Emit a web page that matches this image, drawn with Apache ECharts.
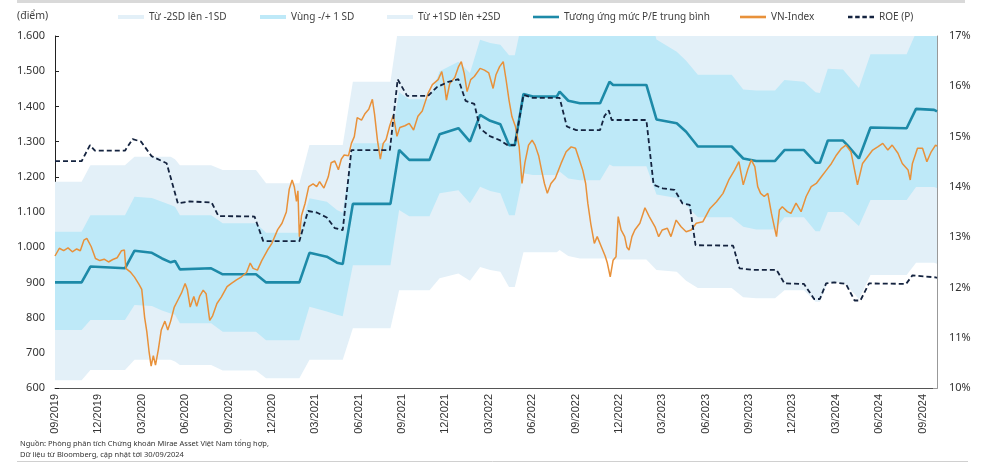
<!DOCTYPE html>
<html>
<head>
<meta charset="utf-8">
<script src="https://cdn.jsdelivr.net/npm/echarts/dist/echarts.min.js"></script>
<style>
html,body{margin:0;padding:0;background:#fff;}
#chart{width:990px;height:466px;}
</style>
</head>
<body>
<div id="chart"></div>
<script>
// x positions are months elapsed since the start of 09/2019
const xTickLabels = ['09/2019','12/2019','03/2020','06/2020','09/2020','12/2020','03/2021','06/2021','09/2021','12/2021','03/2022','06/2022','09/2022','12/2022','03/2023','06/2023','09/2023','12/2023','03/2024','06/2024','09/2024'];

// P/E bands (converted to index points)
const bandMonths = [0,1.84,2.45,4.84,5.5,6.7,7.4,8.0,8.3,8.64,10.8,11.6,13.9,14.6,16.9,17.6,18.8,19.5,19.9,20.6,23.2,23.8,24.5,25.9,26.6,27.9,28.7,29.4,30.1,30.8,31.4,31.8,32.4,33.05,34.7,34.9,35.5,36.3,37.7,38.35,38.6,40.9,41.6,43.0,43.65,44.46,46.8,47.6,48.5,49.8,50.45,51.8,52.6,52.9,53.45,54.5,54.8,55.6,56.4,58.9,59.55,60.8,61.0];
const peMean = [900,900,945,940,990,984,968,957,961,937,940,923,923,900,900,984,973,956,952,1123,1123,1276,1248,1248,1321,1338,1300,1376,1359,1349,1290,1290,1435,1428,1428,1442,1416,1409,1409,1470,1461,1461,1363,1352,1328,1286,1286,1252,1245,1245,1276,1276,1240,1240,1303,1303,1290,1252,1340,1338,1393,1390,1386];
const peUp1 = [1044,1044,1091,1091,1143,1140,1129,1120,1115,1091,1091,1068,1068,1041,1041,1139,1129,1106,1098,1295,1295,1440,1420,1420,1500,1527,1495,1589,1580,1575,1545,1545,1660,1655,1655,1670,1645,1640,1640,1700,1690,1690,1590,1555,1530,1490,1490,1448,1445,1445,1475,1470,1440,1438,1507,1505,1490,1452,1548,1548,1610,1610,1605];
const peUp2 = [1186,1186,1233,1233,1257,1257,1257,1257,1250,1233,1233,1219,1219,1182,1182,1290,1290,1290,1290,1470,1470,1640,1620,1620,1680,1700,1690,1800,1800,1800,1730,1730,1890,1880,1880,1890,1870,1860,1860,1930,1920,1920,1780,1760,1735,1695,1695,1650,1645,1645,1675,1670,1640,1640,1710,1705,1690,1655,1760,1760,1830,1830,1825];
const peLo1 = [765,765,793,793,836,833,820,812,808,784,784,760,760,736,736,831,817,808,804,949,949,1106,1088,1088,1153,1162,1125,1172,1160,1153,1091,1091,1210,1205,1205,1215,1195,1190,1190,1235,1230,1230,1150,1140,1120,1085,1085,1058,1050,1050,1085,1085,1045,1045,1100,1100,1090,1060,1134,1134,1171,1171,1168];
const peLo2 = [622,622,651,651,680,680,680,680,675,665,665,650,650,628,628,680,680,680,680,770,770,878,878,878,912,925,905,944,935,930,887,887,986,986,986,992,975,968,968,968,965,965,935,930,905,884,884,858,855,855,878,878,845,845,900,900,890,852,921,921,956,956,953];

// VN-Index
const vnMonths = [0,0.3,0.6,0.9,1.2,1.5,1.75,2.0,2.2,2.5,2.8,3.1,3.4,3.7,4.0,4.3,4.6,4.8,4.9,5.2,5.5,5.8,6.0,6.2,6.35,6.5,6.65,6.8,6.95,7.15,7.35,7.6,7.8,8.0,8.25,8.5,8.75,9.0,9.15,9.35,9.6,9.8,10.0,10.25,10.45,10.7,10.9,11.2,11.5,11.9,12.2,12.55,12.9,13.25,13.5,13.7,14.0,14.3,14.7,15.0,15.4,15.7,16.0,16.2,16.4,16.55,16.7,16.8,16.9,17.05,17.3,17.55,17.85,18.1,18.3,18.6,18.9,19.1,19.35,19.6,19.8,20.0,20.3,20.5,20.7,20.9,21.2,21.45,21.7,21.95,22.1,22.3,22.5,22.7,22.9,23.15,23.4,23.65,23.85,24.2,24.5,24.8,25.1,25.4,25.8,26.1,26.5,26.75,26.95,27.07,27.3,27.65,27.9,28.1,28.3,28.5,28.75,29.0,29.4,29.7,30.0,30.3,30.5,30.75,31.0,31.2,31.4,31.6,31.85,32.1,32.3,32.5,32.75,33.0,33.2,33.45,33.65,33.85,34.05,34.3,34.6,35.0,35.35,35.7,36.0,36.25,36.5,36.7,36.85,37.05,37.3,37.5,37.8,38.05,38.2,38.4,38.6,38.8,38.95,39.15,39.4,39.55,39.7,39.9,40.1,40.45,40.8,41.1,41.5,41.75,42.0,42.35,42.6,42.96,43.3,43.65,44.0,44.35,44.8,45.3,45.75,46.2,46.6,47.0,47.3,47.45,47.6,47.9,48.15,48.4,48.6,48.8,49.05,49.3,49.55,49.75,49.9,50.1,50.3,50.65,50.9,51.25,51.6,51.95,52.3,52.65,53.0,53.35,53.7,54.05,54.4,54.7,55.05,55.3,55.5,55.85,56.2,56.55,56.9,57.25,57.6,57.9,58.3,58.6,59.0,59.15,59.3,59.65,60.0,60.3,60.6,60.9,61.0];
const vnIndex = [975,997,990,998,987,995,990,1020,1025,1002,968,962,966,958,965,970,990,992,940,930,915,895,880,800,760,705,662,692,665,710,765,790,765,790,830,850,870,897,880,830,860,832,860,878,868,792,805,840,858,888,897,907,916,928,955,940,935,962,992,1011,1050,1068,1100,1165,1191,1172,1130,1160,1030,1090,1125,1172,1180,1172,1186,1168,1200,1240,1245,1220,1250,1262,1260,1295,1314,1368,1361,1380,1392,1420,1378,1304,1250,1295,1306,1345,1375,1315,1340,1345,1352,1333,1372,1387,1437,1462,1476,1499,1456,1418,1465,1482,1512,1527,1494,1442,1476,1485,1508,1503,1495,1451,1490,1513,1527,1475,1418,1371,1342,1286,1181,1240,1290,1304,1290,1260,1219,1181,1153,1181,1196,1238,1271,1285,1281,1250,1219,1181,1125,1068,1011,1030,1000,975,955,916,963,973,1087,1049,1030,1000,992,1030,1049,1068,1112,1087,1058,1030,1049,1054,1030,1077,1058,1044,1049,1068,1072,1110,1129,1153,1191,1219,1243,1210,1177,1219,1248,1229,1172,1153,1144,1153,1096,1058,1030,1106,1115,1101,1096,1125,1101,1144,1172,1181,1200,1219,1238,1262,1281,1290,1271,1219,1177,1238,1257,1276,1285,1295,1276,1290,1267,1238,1219,1191,1238,1281,1281,1243,1271,1290,1287];

// ROE (%), right axis
const roeMonths = [0,1.84,2.42,2.76,4.84,5.37,5.95,6.68,7.72,8.5,9.3,10.83,11.3,13.8,14.4,16.9,17.5,18.1,18.8,19.35,19.9,20.5,23.16,23.7,24.35,25.8,26.4,27.2,27.9,28.4,29.0,29.4,30.07,30.75,31.3,31.8,32.4,33.05,34.9,35.4,36.05,37.7,38.0,38.3,38.5,40.9,41.4,42.04,42.85,43.4,43.9,44.3,46.9,47.34,48.26,49.9,50.45,51.8,52.5,52.9,53.33,53.9,54.7,55.3,55.7,56.3,58.86,59.3,60.9,61.0];
const roe = [14.51,14.51,14.83,14.72,14.72,14.95,14.9,14.61,14.47,13.67,13.71,13.69,13.42,13.41,12.92,12.92,13.52,13.49,13.39,13.18,13.14,14.73,14.73,16.14,15.81,15.81,15.98,16.09,16.14,15.71,15.65,15.16,15.01,14.93,14.83,14.83,15.83,15.77,15.77,15.2,15.13,15.13,15.41,15.52,15.33,15.33,14.04,13.97,13.94,13.67,13.64,12.84,12.83,12.38,12.35,12.35,12.08,12.07,11.77,11.77,12.08,12.10,12.07,11.74,11.74,12.08,12.07,12.24,12.20,12.19];

const zip = (xs, ys) => xs.map((x, i) => [x, ys[i]]);

const PALE = '#e3f0f8';
const BLUE = '#bee9f8';
const TEAL = '#1d8aa8';
const ORANGE = '#e8913a';
const NAVY = '#14233f';
const FONT = 'Noto Sans';

function bandSeries(name, ys, color, z) {
  return {
    name: name, type: 'line', data: zip(bandMonths, ys), symbol: 'none',
    lineStyle: { width: 0, color: color }, itemStyle: { color: color },
    areaStyle: { color: color, opacity: 1, origin: 'start' },
    silent: true, z: z, clip: true
  };
}

const legendItems = [
  { left: 118, item: { name: 'Từ -2SD lên -1SD', icon: 'rect', itemStyle: { color: PALE } } },
  { left: 260, item: { name: 'Vùng -/+ 1 SD', icon: 'rect', itemStyle: { color: BLUE } } },
  { left: 387, item: { name: 'Từ +1SD lên +2SD', icon: 'rect', itemStyle: { color: PALE } } },
  { left: 533, item: { name: 'Tương ứng mức P/E trung bình', icon: 'path://M0,0H30V3H0Z', itemStyle: { color: TEAL } } },
  { left: 740, item: { name: 'VN-Index', icon: 'path://M0,0H30V3H0Z', itemStyle: { color: ORANGE } } },
  { left: 848, item: { name: 'ROE (P)', icon: 'path://M0,0H5V3H0ZM8,0H13V3H8ZM16,0H21V3H16ZM24,0H29V3H24Z', itemStyle: { color: NAVY } } }
];

const chart = echarts.init(document.getElementById('chart'), null, { renderer: 'canvas' });
chart.setOption({
  animation: false,
  backgroundColor: '#fff',
  textStyle: { fontFamily: FONT },
  grid: { left: 55, right: 53, top: 36, bottom: 78 },
  legend: legendItems.map(l => ({
    left: l.left, top: 12, itemWidth: 26, itemHeight: 4, itemGap: 0, padding: 0,
    selectedMode: false,
    textStyle: { fontFamily: FONT, fontSize: 10, color: '#404040' },
    data: [l.item]
  })),
  xAxis: {
    type: 'value', min: 0, max: 61, interval: 3,
    axisLine: { lineStyle: { color: '#555', width: 1 } },
    axisTick: { inside: true, length: 4, lineStyle: { color: '#333' } },
    splitLine: { show: false },
    axisLabel: {
      rotate: 90, margin: 6, fontFamily: 'Liberation Sans', fontSize: 11, color: '#333',
      showMaxLabel: false,
      formatter: v => (v % 3 === 0 && xTickLabels[v / 3]) ? xTickLabels[v / 3] : ''
    }
  },
  yAxis: [
    {
      type: 'value', min: 600, max: 1600, interval: 100, position: 'left',
      axisLine: { show: true, lineStyle: { color: '#222' } },
      axisTick: { show: true, inside: true, length: 4, lineStyle: { color: '#222' } },
      splitLine: { show: false },
      axisLabel: {
        margin: 10, fontFamily: FONT, fontSize: 11, color: '#333',
        formatter: v => v >= 1000 ? Math.floor(v / 1000) + '.' + String(v % 1000).padStart(3, '0') : String(v)
      }
    },
    {
      type: 'value', min: 10, max: 17, interval: 1, position: 'right',
      axisLine: { show: true, lineStyle: { color: '#999' } },
      axisTick: { show: true, inside: true, length: 4, lineStyle: { color: '#999' } },
      splitLine: { show: false },
      axisLabel: { margin: 12, fontFamily: FONT, fontSize: 11, color: '#333', formatter: v => v + '%' }
    }
  ],
  series: [
    bandSeries('Từ +1SD lên +2SD', peUp2, PALE, 1),
    bandSeries('Vùng -/+ 1 SD', peUp1, BLUE, 2),
    bandSeries('Từ -2SD lên -1SD', peLo1, PALE, 3),
    bandSeries('lower', peLo2, '#ffffff', 4),
    {
      name: 'Tương ứng mức P/E trung bình', type: 'line', data: zip(bandMonths, peMean),
      symbol: 'none', lineStyle: { color: TEAL, width: 2.6 }, itemStyle: { color: TEAL }, z: 5
    },
    {
      name: 'VN-Index', type: 'line', data: zip(vnMonths, vnIndex),
      symbol: 'none', lineStyle: { color: ORANGE, width: 1.5 }, itemStyle: { color: ORANGE }, z: 6
    },
    {
      name: 'ROE (P)', type: 'line', yAxisIndex: 1, data: zip(roeMonths, roe),
      symbol: 'none', lineStyle: { color: NAVY, width: 1.8, type: [5, 3] }, itemStyle: { color: NAVY }, z: 7
    }
  ],
  graphic: [
    { type: 'rect', shape: { x: 17, y: 0, width: 948, height: 3 }, style: { fill: '#d9d9d9' }, silent: true },
    { type: 'text', left: 17, top: 11, style: { text: '(điểm)', font: '10.5px "Noto Sans"', fill: '#404040' } },
    { type: 'text', left: 20, top: 438, style: { text: 'Nguồn: Phòng phân tích Chứng khoán Mirae Asset Việt Nam tổng hợp,\nDữ liệu từ Bloomberg, cập nhật tới 30/09/2024', font: '7.5px "Noto Sans"', fill: '#333', lineHeight: 11 } },
    { type: 'line', shape: { x1: 17, y1: 461.5, x2: 968, y2: 461.5 }, style: { stroke: '#d0d0d0', lineWidth: 1 }, silent: true }
  ]
});
</script>
</body>
</html>
